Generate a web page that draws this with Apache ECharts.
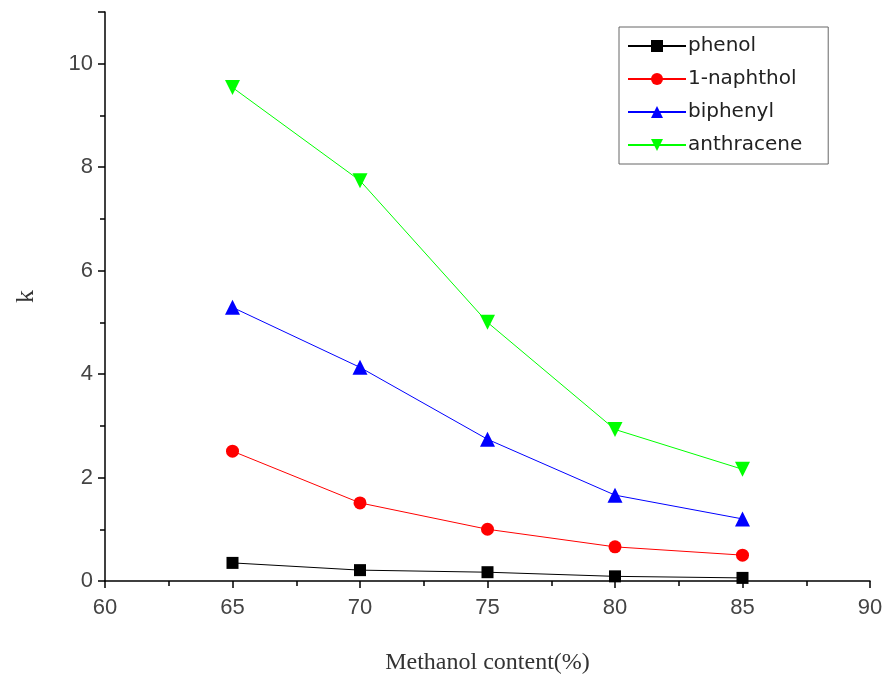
<!DOCTYPE html>
<html>
<head>
<meta charset="utf-8">
<script src="https://cdn.jsdelivr.net/npm/echarts@6/dist/echarts.min.js"></script>
<style>
html, body { margin: 0; padding: 0; background: #fff; }
#chart-container { width: 891px; height: 683px; }
</style>
</head>
<body>
<div id="chart-container"></div>
<script>
var methanol = [65, 70, 75, 80, 85];
var phenol = [0.35, 0.21, 0.17, 0.09, 0.06];
var naphthol = [2.51, 1.51, 1.0, 0.66, 0.5];
var biphenyl = [5.29, 4.13, 2.74, 1.66, 1.2];
var anthracene = [9.54, 7.74, 5.0, 2.93, 2.16];

function pairs(vals) {
  return methanol.map(function (x, i) { return [x, vals[i]]; });
}

var dom = document.getElementById('chart-container');
var myChart = echarts.init(dom, null, { renderer: 'canvas' });

function makeSeries(name, vals, color, symbol, size, rotate) {
  return {
    name: name,
    type: 'line',
    data: pairs(vals),
    symbol: symbol,
    symbolSize: size,
    symbolRotate: rotate || 0,
    lineStyle: { color: color, width: 1 },
    itemStyle: { color: color },
    emphasis: { disabled: true },
    z: 3
  };
}

var axisLabelStyle = { color: '#444', fontSize: 22, fontFamily: 'Liberation Sans, Arial, sans-serif' };

var option = {
  animation: false,
  grid: { left: 105, right: 21, top: 12, bottom: 102 },
  legend: {
    orient: 'vertical',
    left: 619,
    top: 27,
    padding: [9, 26, 9, 8],
    itemGap: 13,
    itemWidth: 58,
    itemHeight: 15,
    borderColor: '#666',
    borderWidth: 1,
    textStyle: { color: '#222', fontSize: 20, fontFamily: 'DejaVu Sans, sans-serif', padding: [0, 0, 0, -3] },
    data: ['phenol', '1-naphthol', 'biphenyl', 'anthracene']
  },
  xAxis: {
    type: 'value',
    min: 60,
    max: 90,
    interval: 5,
    name: 'Methanol content(%)',
    nameLocation: 'middle',
    nameGap: 70,
    nameTextStyle: { color: '#333', fontSize: 24, fontFamily: 'Liberation Serif, Times New Roman, serif' },
    axisLine: { onZero: false, lineStyle: { color: '#000', width: 1.5 } },
    axisTick: { inside: false, length: 7, lineStyle: { color: '#000', width: 1.5 } },
    minorTick: { show: true, splitNumber: 2, length: 5, lineStyle: { color: '#000', width: 1.5 } },
    axisLabel: Object.assign({ margin: 16 }, axisLabelStyle),
    splitLine: { show: false }
  },
  yAxis: {
    type: 'value',
    min: 0,
    max: 11,
    interval: 2,
    name: 'k',
    nameLocation: 'middle',
    nameGap: 66,
    nameRotate: 90,
    nameTextStyle: { color: '#333', fontSize: 26, fontFamily: 'Liberation Serif, Times New Roman, serif' },
    axisLine: { show: true, lineStyle: { color: '#000', width: 1.5 } },
    axisTick: { show: true, inside: false, length: 7, lineStyle: { color: '#000', width: 1.5 } },
    minorTick: { show: true, splitNumber: 2, length: 5, lineStyle: { color: '#000', width: 1.5 } },
    axisLabel: Object.assign({ margin: 12, showMaxLabel: false }, axisLabelStyle),
    splitLine: { show: false }
  },
  series: [
    makeSeries('phenol', phenol, '#000000', 'rect', 12),
    makeSeries('1-naphthol', naphthol, '#ff0000', 'circle', 13),
    makeSeries('biphenyl', biphenyl, '#0000ff', 'triangle', 15),
    makeSeries('anthracene', anthracene, '#00ff00', 'triangle', 15, 180)
  ]
};

myChart.setOption(option);
window.addEventListener('resize', myChart.resize);
</script>
</body>
</html>
